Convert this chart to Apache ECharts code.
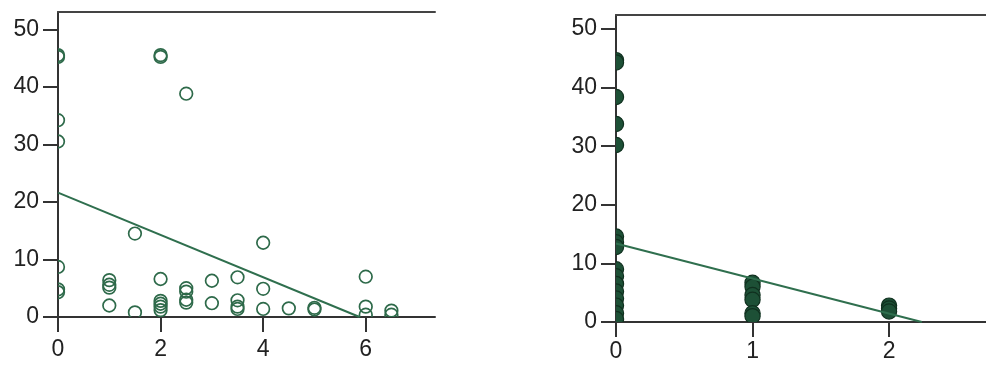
<!DOCTYPE html>
<html>
<head>
<meta charset="utf-8">
<script src="https://cdn.jsdelivr.net/npm/echarts@6/dist/echarts.min.js"></script>
<style>
  html, body { margin: 0; padding: 0; background: #fff; }
  #chart { width: 986px; height: 365px; }
</style>
</head>
<body>
<div id="chart"></div>
<script>
// left panel: open circles + fit line
const leftPoints = [
  [0, 45.5], [0, 45.2], [0, 34.2], [0, 30.5], [0, 8.7], [0, 4.8], [0, 4.3],
  [1, 6.4], [1, 5.6], [1, 5.1], [1, 2.0],
  [1.5, 14.5], [1.5, 0.8],
  [2, 45.5], [2, 45.2], [2, 6.6], [2, 2.8], [2, 2.3], [2, 1.8], [2, 1.2],
  [2.5, 38.8], [2.5, 5.0], [2.5, 4.4], [2.5, 3.0], [2.5, 2.5],
  [3, 6.3], [3, 2.4],
  [3.5, 6.9], [3.5, 2.9], [3.5, 1.8], [3.5, 1.4],
  [4, 12.9], [4, 4.9], [4, 1.4],
  [4.5, 1.5],
  [5, 1.6], [5, 1.3],
  [6, 7.0], [6, 1.8], [6, 0.4],
  [6.5, 1.1], [6.5, 0.4]
];
const leftFit = [[0, 21.6], [5.88, 0]];
const leftXTicks = [0, 2, 4, 6];

// right panel: filled circles + fit line
const rightPoints = [
  [0, 44.7], [0, 44.3], [0, 38.4], [0, 33.8], [0, 30.2],
  [0, 14.6], [0, 13.6], [0, 12.8], [0, 9.0], [0, 7.8], [0, 6.5],
  [0, 5.2], [0, 4.0], [0, 2.8], [0, 1.5], [0, 0.5],
  [1, 6.7], [1, 6.0], [1, 4.6], [1, 3.8], [1, 1.5], [1, 1.0],
  [2, 2.8], [2, 2.3], [2, 1.8]
];
const rightFit = [[0, 13.4], [2.24, 0]];
const rightXTicks = [0, 1, 2];

const yTicks = [0, 10, 20, 30, 40, 50];

const axisColor = '#333';
const labelFont = { color: '#222', fontSize: 23, fontFamily: 'Liberation Sans, Arial, sans-serif' };

function bottomAxis(grid, max, ticks, margin) {
  return {
    type: 'value', gridIndex: grid, min: 0, max: max, position: 'bottom',
    axisLine: { show: true, onZero: false, lineStyle: { color: axisColor, width: 2 } },
    axisTick: { show: true, length: 15, customValues: ticks, lineStyle: { color: axisColor, width: 2 } },
    axisLabel: Object.assign({ customValues: ticks, margin: margin }, labelFont),
    splitLine: { show: false }
  };
}

function topAxis(grid, max) {
  return {
    type: 'value', gridIndex: grid, min: 0, max: max, position: 'top',
    axisLine: { show: true, onZero: false, lineStyle: { color: '#444', width: 2 } },
    axisTick: { show: false }, axisLabel: { show: false }, splitLine: { show: false }
  };
}

function leftAxis(grid, max) {
  return {
    type: 'value', gridIndex: grid, min: 0, max: max,
    axisLine: { show: true, onZero: false, lineStyle: { color: axisColor, width: 2 } },
    axisTick: { show: true, length: 15, customValues: yTicks, lineStyle: { color: axisColor, width: 2 } },
    axisLabel: Object.assign({ customValues: yTicks, margin: 19 }, labelFont),
    splitLine: { show: false }
  };
}

// circles drawn through a custom series so they get clipped at the axes
function dots(r, style) {
  return function (params, api) {
    const p = api.coord([api.value(0), api.value(1)]);
    return { type: 'circle', shape: { cx: p[0], cy: p[1], r: r }, style: style };
  };
}

const chart = echarts.init(document.getElementById('chart'));
chart.setOption({
  animation: false,
  grid: [
    { left: 58, top: 12, width: 377, height: 305 },
    { left: 616, top: 15, width: 370, height: 307 }
  ],
  xAxis: [
    bottomAxis(0, 7.35, leftXTicks, 21),
    topAxis(0, 7.35),
    bottomAxis(1, 2.71, rightXTicks, 18),
    topAxis(1, 2.71)
  ],
  yAxis: [leftAxis(0, 53), leftAxis(1, 52.4)],
  series: [
    {
      type: 'custom', xAxisIndex: 0, yAxisIndex: 0, data: leftPoints, clip: true,
      encode: { x: 0, y: 1 },
      renderItem: dots(6.3, { fill: 'none', stroke: '#2e6a4a', lineWidth: 1.7 })
    },
    {
      type: 'line', xAxisIndex: 0, yAxisIndex: 0, data: leftFit, symbol: 'none',
      lineStyle: { color: '#2f6f4e', width: 2 }
    },
    {
      type: 'custom', xAxisIndex: 2, yAxisIndex: 1, data: rightPoints, clip: true,
      encode: { x: 0, y: 1 },
      renderItem: dots(7.6, { fill: '#1d5036', stroke: '#10301f', lineWidth: 1.2 })
    },
    {
      type: 'line', xAxisIndex: 2, yAxisIndex: 1, data: rightFit, symbol: 'none',
      lineStyle: { color: '#2f6f4e', width: 2 }
    }
  ]
});
</script>
</body>
</html>
